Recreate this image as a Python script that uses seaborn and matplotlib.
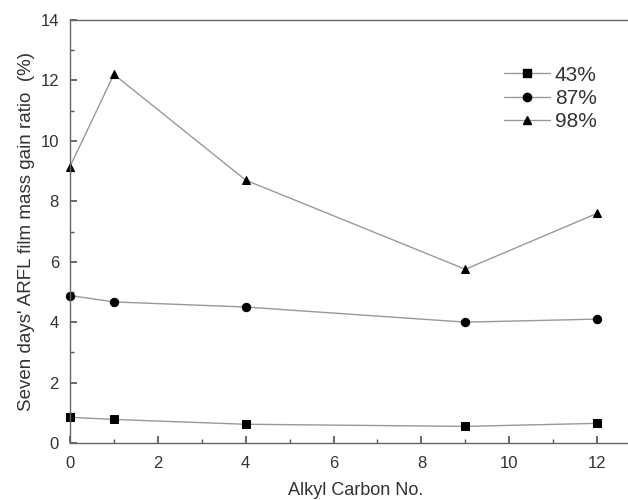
import matplotlib
matplotlib.use("Agg")
import matplotlib.pyplot as plt
import seaborn as sns
import pandas as pd
from matplotlib.ticker import MultipleLocator
from matplotlib.lines import Line2D

carbon = [0, 1, 4, 9, 12]
s43 = [0.85, 0.78, 0.62, 0.55, 0.65]
s87 = [4.88, 4.67, 4.5, 4.0, 4.1]
s98 = [9.15, 12.2, 8.7, 5.75, 7.6]
labels = ["43%", "87%", "98%"]

df = pd.DataFrame({
    "x": carbon * 3,
    "y": s43 + s87 + s98,
    "series": [labels[0]] * 5 + [labels[1]] * 5 + [labels[2]] * 5,
})

sns.set_theme(style="ticks")
plt.rcParams['font.family'] = ['Liberation Sans', 'DejaVu Sans']

fig = plt.figure(figsize=(6.28, 5.0), dpi=100)
ax = fig.add_axes([70 / 628, 57 / 500, 571 / 628, 423 / 500])

sns.lineplot(data=df, x="x", y="y", hue="series", style="series",
             markers={"43%": "s", "87%": "o", "98%": "^"}, dashes=False,
             palette={"43%": "#999999", "87%": "#999999", "98%": "#999999"},
             linewidth=1.0, markersize=6, markeredgecolor="black",
             ax=ax, legend=False, clip_on=False)
for ln in ax.lines:
    ln.set_markerfacecolor("black")
    ln.set_markeredgecolor("black")

ax.set_xlim(0, 13)
ax.set_ylim(0, 14)
ax.xaxis.set_major_locator(MultipleLocator(2))
ax.xaxis.set_minor_locator(MultipleLocator(1))
ax.yaxis.set_major_locator(MultipleLocator(2))
ax.yaxis.set_minor_locator(MultipleLocator(1))
ax.tick_params(which="both", direction="in", colors="#555555", labelcolor="#333333", labelsize=12)
ax.tick_params(which="major", length=5)
ax.tick_params(which="minor", length=3)
ax.tick_params(axis="x", pad=9)
ax.tick_params(axis="y", pad=8)
ax.spines["right"].set_visible(False)
for s in ["left", "bottom", "top"]:
    ax.spines[s].set_color("#666666")
    ax.spines[s].set_linewidth(1.0)

ax.set_xlabel("Alkyl Carbon No.", fontsize=13, color="#333333", labelpad=8)
ax.set_ylabel("Seven days' ARFL film mass gain ratio  (%)", fontsize=13.5, color="#333333", labelpad=4)

handles = [Line2D([], [], color="#999999", marker=m, markerfacecolor="black",
                  markeredgecolor="black", markersize=6, linewidth=1.0)
           for m in ["s", "o", "^"]]
ax.legend(handles, labels, loc="upper left", bbox_to_anchor=(485 / 628, 1 - 47 / 500),
          bbox_transform=fig.transFigure,
          frameon=False, fontsize=15, handlelength=2.2, labelcolor="#333333",
          handletextpad=0.25, labelspacing=0.2)

fig.savefig("out.png", dpi=100)
